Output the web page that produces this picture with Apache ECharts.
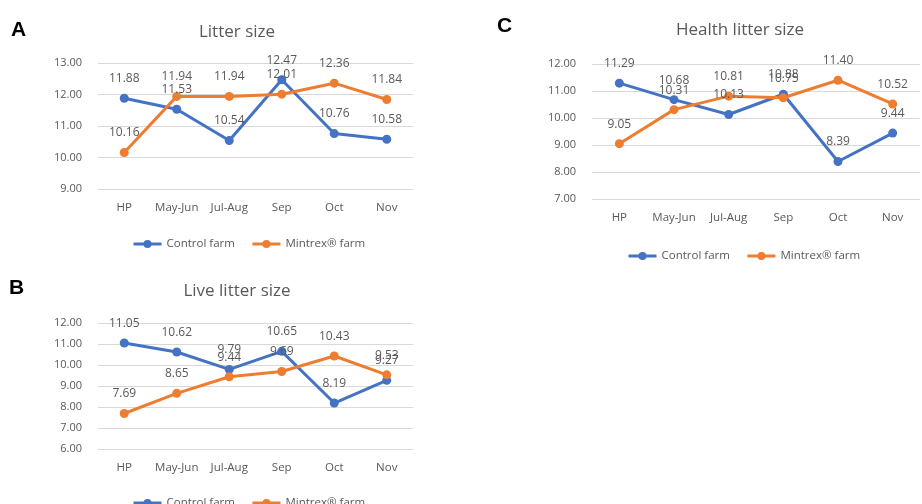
<!DOCTYPE html>
<html><head><meta charset="utf-8">
<script src="https://cdn.jsdelivr.net/npm/echarts@6/dist/echarts.min.js"></script>
<style>html,body{margin:0;padding:0;background:#fff}#c{width:922px;height:504px}</style>
</head><body><div id="c"></div>
<script>
const categories = ['HP','May-Jun','Jul-Aug','Sep','Oct','Nov'];
const seriesNames = ['Control farm','Mintrex\u00AE farm'];
const litterControl = [11.88, 11.53, 10.54, 12.47, 10.76, 10.58];
const litterMintrex = [10.16, 11.94, 11.94, 12.01, 12.36, 11.84];
const liveControl = [11.05, 10.62, 9.79, 10.65, 8.19, 9.27];
const liveMintrex = [7.69, 8.65, 9.44, 9.69, 10.43, 9.53];
const healthControl = [11.29, 10.68, 10.13, 10.88, 8.39, 9.44];
const healthMintrex = [9.05, 10.31, 10.81, 10.75, 11.40, 10.52];
const titles = ['Litter size','Live litter size','Health litter size'];
const panelLetters = ['A','B','C'];

const FONT = 'Open Sans';
const GRAY = '#595959';
const BLUE = '#4472C4', ORANGE = '#ED7D31';

const grids = [
  {left: 98, top: 63, width: 315, height: 126},
  {left: 98, top: 323, width: 315, height: 126},
  {left: 592, top: 64, width: 328, height: 135}
];
const yRanges = [[9,13],[6,12],[7,12]];

const xAxes = grids.map((g,i)=>({
  type:'category', gridIndex:i, data:categories, boundaryGap:true,
  axisLine:{show:false}, axisTick:{show:false},
  axisLabel:{color:GRAY, fontFamily:FONT, fontSize:11.5, margin:13, interval:0}
}));
const yAxes = grids.map((g,i)=>({
  type:'value', gridIndex:i, min:yRanges[i][0], max:yRanges[i][1], interval:1,
  axisLine:{show:false}, axisTick:{show:false},
  splitLine:{lineStyle:{color:'#d9d9d9', width:1}},
  axisLabel:{color:GRAY, fontFamily:FONT, fontSize:11, margin:16, formatter:v=>v.toFixed(2)}
}));

function mk(name, data, color, i){
  return {
    name, type:'line', xAxisIndex:i, yAxisIndex:i, data,
    symbol:'circle', symbolSize:9,
    lineStyle:{color, width:3}, itemStyle:{color},
    label:{show:true, position:'top', distance:9, color:GRAY, fontFamily:FONT, fontSize:12,
      formatter:p=>p.value.toFixed(2)},
    animation:false
  };
}
const series = [
  mk(seriesNames[0], litterControl, BLUE, 0), mk(seriesNames[1], litterMintrex, ORANGE, 0),
  mk(seriesNames[0], liveControl, BLUE, 1), mk(seriesNames[1], liveMintrex, ORANGE, 1),
  mk(seriesNames[0], healthControl, BLUE, 2), mk(seriesNames[1], healthMintrex, ORANGE, 2)
];

const titleCenters = [[237,32],[237,291],[740,30]];
const legendTops = [233, 492, 245];
const legendLefts = [127, 127, 622];
const letterPos = [[11,20],[9,278],[497,16]];

const legends = legendTops.map((t,i)=>({
  data: seriesNames, top:t, left: legendLefts[i], orient:'horizontal',
  itemWidth:28, itemHeight:10, itemGap:16, selectedMode:false,
  lineStyle:{width:3},
  textStyle:{color:GRAY, fontFamily:FONT, fontSize:11.5}
}));

const graphic = [];
titles.forEach((t,i)=>{
  graphic.push({type:'text', x: titleCenters[i][0], y: titleCenters[i][1],
    style:{text:t, fill:GRAY, font:`17px "${FONT}"`, textAlign:'center', textVerticalAlign:'middle'}});
});
panelLetters.forEach((l,i)=>{
  graphic.push({type:'text', left: letterPos[i][0], top: letterPos[i][1],
    style:{text:l, fill:'#000', font:'bold 21px "Liberation Sans"'}});
});

const chart = echarts.init(document.getElementById('c'));
chart.setOption({
  animation:false,
  grid: grids, xAxis: xAxes, yAxis: yAxes, series, legend: legends, graphic
});
</script></body></html>
